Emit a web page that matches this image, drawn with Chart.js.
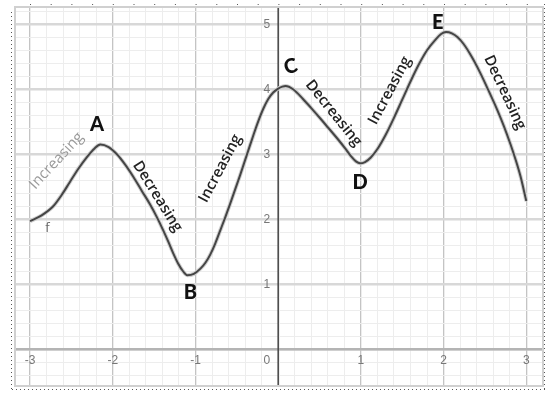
<!DOCTYPE html>
<html lang="en">
<head>
    <meta charset="UTF-8">
    <title>Increasing and decreasing intervals</title>
    <script src="https://cdn.jsdelivr.net/npm/chart.js"></script>
    <style>
        html, body { margin: 0; padding: 0; background: #fff; }
        canvas { display: block; }
    </style>
</head>
<body>
    <canvas id="myChart" width="547" height="395"></canvas>
    <script>
        const ctx = document.getElementById('myChart').getContext('2d');

        // Curve f
        const xValues = [-3, -2.86, -2.72, -2.62, -2.52, -2.42, -2.31, -2.22, -2.15,
                         -2.05, -1.95, -1.85, -1.75, -1.65, -1.55, -1.47, -1.39, -1.33, -1.27, -1.21, -1.15, -1.10,
                         -1.02, -0.94, -0.88, -0.82, -0.76, -0.70, -0.64, -0.58, -0.52, -0.46, -0.40, -0.34,
                         -0.29, -0.24, -0.18, -0.12, -0.06, 0, 0.05, 0.09,
                         0.18, 0.30, 0.40, 0.51, 0.61, 0.71, 0.81, 0.88, 0.94, 0.99,
                         1.05, 1.12, 1.2, 1.3, 1.4, 1.5, 1.6, 1.7, 1.8, 1.9, 1.97, 2.03,
                         2.1, 2.17, 2.24, 2.34, 2.44, 2.54, 2.65, 2.73, 2.81, 2.87, 2.93, 3.0];
        const yValues = [1.97, 2.06, 2.2, 2.37, 2.57, 2.77, 2.96, 3.09, 3.15,
                         3.11, 3.0, 2.84, 2.65, 2.44, 2.23, 2.04, 1.83, 1.66, 1.48, 1.32, 1.2, 1.14,
                         1.16, 1.24, 1.33, 1.46, 1.63, 1.83, 2.03, 2.24, 2.46, 2.68, 2.91, 3.14,
                         3.33, 3.51, 3.70, 3.85, 3.95, 4.01, 4.04, 4.05,
                         4.0, 3.85, 3.71, 3.55, 3.40, 3.25, 3.09, 2.97, 2.89, 2.86,
                         2.88, 2.95, 3.08, 3.3, 3.56, 3.84, 4.12, 4.38, 4.6, 4.76, 4.85, 4.88,
                         4.86, 4.8, 4.7, 4.5, 4.26, 3.99, 3.68, 3.43, 3.15, 2.92, 2.66, 2.28];

        // Axis tick labels
        const xTickLabels = ['-3', '-2', '-1', '0', '1', '2', '3'];
        const yTickLabels = ['1', '2', '3', '4', '5'];

        // Hand-written notes, placed in graph units
        const notes = [
            { text: 'Increasing', x: -2.68, y: 2.9,  angle: -47, kind: 'faint' },
            { text: 'A',          x: -2.19, y: 3.45, angle: 0,   kind: 'letter' },
            { text: 'Decreasing', x: -1.46, y: 2.35, angle: 58,  kind: 'word' },
            { text: 'B',          x: -1.06, y: 0.88, angle: 0,   kind: 'letter' },
            { text: 'Increasing', x: -0.70, y: 2.78, angle: -62, kind: 'word' },
            { text: 'C',          x: 0.15,  y: 4.35, angle: -15, kind: 'letter' },
            { text: 'Decreasing', x: 0.67,  y: 3.63, angle: 51,  kind: 'word' },
            { text: 'D',          x: 0.99,  y: 2.57, angle: 0,   kind: 'letter' },
            { text: 'Increasing', x: 1.35,  y: 3.98, angle: -62, kind: 'word' },
            { text: 'E',          x: 1.93,  y: 5.03, angle: 0,   kind: 'letter' },
            { text: 'Decreasing', x: 2.74,  y: 3.95, angle: 65,  kind: 'word' },
            { text: 'f',          x: -2.79, y: 1.86, angle: 0,   kind: 'name' }
        ];

        const points = xValues.map((x, i) => ({ x: x, y: yValues[i] }));

        const isInt = v => Math.abs(v - Math.round(v)) < 1e-9;

        // grid every 0.2 units
        const gridTicks = (from, to) => {
            const t = [];
            for (let i = Math.round(from * 5); i <= Math.round(to * 5); i++) t.push({ value: i / 5 });
            return t;
        };

        // frame and dotted screenshot edge
        const framePlugin = {
            id: 'framePlugin',
            beforeDraw: (chart) => {
                const c = chart.ctx;
                c.save();
                c.fillStyle = '#fff';
                c.fillRect(0, 0, chart.width, chart.height);
                c.strokeStyle = '#555';
                c.lineWidth = 1;
                c.setLineDash([1, 3]);
                c.beginPath();
                c.moveTo(11.5, 12); c.lineTo(11.5, 392);
                c.moveTo(12, 389.5); c.lineTo(545, 389.5);
                c.moveTo(544.5, 4); c.lineTo(544.5, 392);
                c.stroke();
                c.setLineDash([1, 19.7]);
                c.beginPath();
                c.moveTo(30, 4.5); c.lineTo(540, 4.5);
                c.stroke();
                c.restore();
            },
            // axes on top of the grid
            beforeDatasetsDraw: (chart) => {
                const c = chart.ctx;
                const a = chart.chartArea;
                const x0 = chart.scales.x.getPixelForValue(0);
                const y0 = chart.scales.y.getPixelForValue(0);
                c.save();
                c.strokeStyle = '#b4b4b4';
                c.lineWidth = 2.5;
                c.beginPath();
                c.moveTo(a.left, y0); c.lineTo(a.right, y0);
                c.stroke();
                c.strokeStyle = '#444';
                c.lineWidth = 1.5;
                c.beginPath();
                c.moveTo(x0, a.top); c.lineTo(x0, a.bottom);
                c.stroke();
                c.restore();
            },
            afterDraw: (chart) => {
                const c = chart.ctx;
                const a = chart.chartArea;
                c.save();
                c.strokeStyle = '#d0d0d0';
                c.lineWidth = 2;
                c.strokeRect(a.left - 1, a.top - 1, a.right - a.left + 2, a.bottom - a.top + 2);
                c.restore();
            }
        };

        // tick labels and notes
        const textPlugin = {
            id: 'textPlugin',
            afterDatasetsDraw: (chart) => {
                const c = chart.ctx;
                const xs = chart.scales.x;
                const ys = chart.scales.y;
                const x0 = xs.getPixelForValue(0);
                const y0 = ys.getPixelForValue(0);
                c.save();
                c.font = '12px "Liberation Sans", Arial, sans-serif';
                c.fillStyle = '#777';
                c.textBaseline = 'middle';
                xTickLabels.forEach(l => {
                    const v = Number(l);
                    if (v === 0) {
                        c.textAlign = 'right';
                        c.fillText(l, x0 - 8, y0 + 11);
                    } else {
                        c.textAlign = 'center';
                        c.fillText(l, xs.getPixelForValue(v), y0 + 11);
                    }
                });
                c.textAlign = 'right';
                yTickLabels.forEach(l => {
                    c.fillText(l, x0 - 8, ys.getPixelForValue(Number(l)));
                });

                notes.forEach(n => {
                    c.save();
                    c.translate(xs.getPixelForValue(n.x), ys.getPixelForValue(n.y));
                    c.rotate(n.angle * Math.PI / 180);
                    c.textAlign = 'center';
                    c.textBaseline = 'middle';
                    if (n.kind === 'faint') {
                        c.font = '15px "Open Sans", sans-serif';
                        c.fillStyle = '#9a9a9a';
                    } else if (n.kind === 'word') {
                        c.font = '600 15px "Open Sans", sans-serif';
                        c.fillStyle = '#222';
                    } else if (n.kind === 'letter') {
                        c.font = '900 20px "Lato", "DejaVu Sans", sans-serif';
                        c.fillStyle = '#111';
                    } else {
                        c.font = '13px "Open Sans", sans-serif';
                        c.fillStyle = '#666';
                    }
                    c.fillText(n.text, 0, 0);
                    c.restore();
                });
                c.restore();
            }
        };

        const chart = new Chart(ctx, {
            type: 'line',
            data: {
                datasets: [{
                    label: 'f',
                    data: points,
                    borderColor: '#454545',
                    borderWidth: 2,
                    pointRadius: 0,
                    cubicInterpolationMode: 'monotone',
                    fill: false,
                    order: 1
                }, {
                    label: 'f halo',
                    data: points,
                    borderColor: '#cfcfcf',
                    borderWidth: 4,
                    pointRadius: 0,
                    cubicInterpolationMode: 'monotone',
                    fill: false,
                    order: 2
                }]
            },
            options: {
                responsive: false,
                animation: false,
                events: [],
                layout: { padding: { left: 16, right: 5, top: 8, bottom: 10 } },
                plugins: { legend: { display: false }, tooltip: { enabled: false } },
                scales: {
                    x: {
                        type: 'linear',
                        min: -3.17,
                        max: 3.19,
                        afterBuildTicks: s => { s.ticks = gridTicks(-3, 3); },
                        ticks: { display: false },
                        border: { display: false },
                        grid: {
                            drawTicks: false,
                            color: c => isInt(c.tick.value) ? '#c4c4c4' : '#ededed',
                            lineWidth: c => isInt(c.tick.value) ? 1.3 : 1
                        }
                    },
                    y: {
                        type: 'linear',
                        min: -0.55,
                        max: 5.25,
                        afterBuildTicks: s => { s.ticks = gridTicks(-0.4, 5.2); },
                        ticks: { display: false },
                        border: { display: false },
                        grid: {
                            drawTicks: false,
                            color: c => isInt(c.tick.value) ? '#d8d8d8' : '#ededed',
                            lineWidth: c => isInt(c.tick.value) ? 2.5 : 1
                        }
                    }
                }
            },
            plugins: [framePlugin, textPlugin]
        });
    </script>
</body>
</html>
